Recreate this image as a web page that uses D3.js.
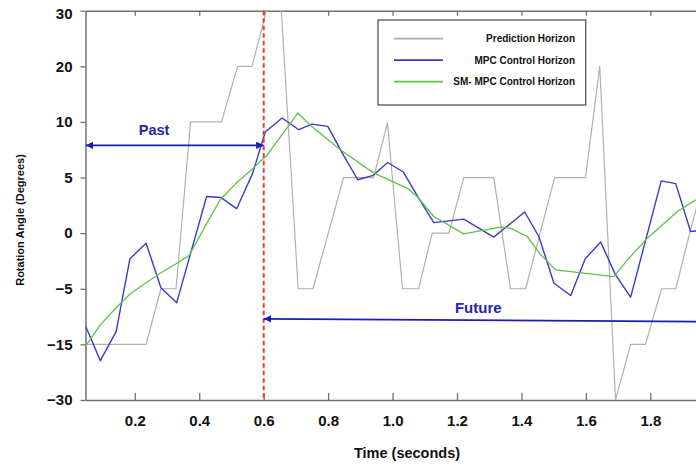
<!DOCTYPE html>
<html>
<head>
<meta charset="utf-8">
<script src="https://cdn.jsdelivr.net/npm/d3@7"></script>
<style>
  html, body { margin: 0; padding: 0; background: #fff; }
  svg { display: block; font-family: "Liberation Sans", Arial, sans-serif; }
</style>
</head>
<body>
<svg id="chart" width="696" height="466"></svg>
<script>
// ---------------- data ----------------
const seriesNames = ["Prediction Horizon", "MPC Control Horizon", "SM- MPC Control Horizon"];

const xTicks = [0.2, 0.4, 0.6, 0.8, 1.0, 1.2, 1.4, 1.6, 1.8];
const yTicks = [-30, -15, -5, 0, 5, 10, 20, 30];

const predTime = [0.048, 0.235, 0.281, 0.328, 0.373, 0.469, 0.519, 0.564, 0.646, 0.707, 0.753, 0.848, 0.941, 0.984, 1.031, 1.081, 1.123, 1.175, 1.221, 1.314, 1.366, 1.413, 1.503, 1.599, 1.643, 1.692, 1.739, 1.785, 1.835, 1.879, 1.922, 1.969];
const predValue = [-15, -15, -5, -5, 10, 10, 20, 20, 38.5, -5, -5, 5, 5, 9.9, -5, -5, 0, 0, 5, 5, -5, -5, 5, 5, 20, -30, -15, -15, -5, -5, 0, 5];

const mpcTime = [0.048, 0.093, 0.142, 0.185, 0.235, 0.281, 0.330, 0.423, 0.468, 0.516, 0.566, 0.605, 0.657, 0.709, 0.750, 0.799, 0.848, 0.892, 0.940, 0.985, 1.033, 1.081, 1.128, 1.174, 1.221, 1.314, 1.410, 1.454, 1.501, 1.553, 1.598, 1.646, 1.692, 1.739, 1.834, 1.879, 1.925, 1.944];
const mpcValue = [-11.8, -19.4, -12.7, -2.3, -0.9, -4.9, -7.5, 3.3, 3.2, 2.2, 5.4, 9.1, 10.7, 9.3, 9.8, 9.6, 7.0, 4.8, 5.2, 6.35, 5.5, 3.15, 0.95, 1.1, 1.26, -0.36, 1.9, -0.3, -4.5, -6.2, -2.3, -0.8, -3.75, -6.5, 4.7, 4.45, 0.15, 0.2];

const smTime = [0.048, 0.093, 0.139, 0.186, 0.233, 0.279, 0.326, 0.369, 0.419, 0.465, 0.515, 0.562, 0.610, 0.706, 0.745, 0.838, 0.942, 1.045, 1.076, 1.128, 1.221, 1.335, 1.366, 1.418, 1.459, 1.506, 1.687, 1.729, 1.791, 1.884, 1.944];
const smValue = [-15.4, -11.5, -8.6, -5.9, -4.5, -3.6, -2.8, -2.0, 0.65, 3.0, 4.5, 5.7, 7.0, 11.6, 9.7, 7.5, 5.4, 4.05, 3.3, 1.5, -0.06, 0.54, 0.45, -0.3, -1.9, -3.3, -3.9, -2.4, -0.45, 1.95, 3.05];

// annotations
const splitTime = 0.6;
const pastArrow = { t0: 0.048, t1: 0.6, v: 7.9, label: "Past", labelT: 0.26, labelV: 8.8 };
const futureArrow = { t0: 0.6, t1: 1.95, v0: -10.4, v1: -10.9, label: "Future", labelT: 1.266, labelV: -9.4 };

// ---------------- layout ----------------
const svg = d3.select("#chart");
const plotLeft = 85.5, plotTop = 10.7, plotBottom = 400, plotRight = 698;

const x = d3.scaleLinear().domain([0.047, 1.95]).range([plotLeft, plotLeft + 1.903 * 322.2]);
const yStep = (plotBottom - plotTop) / (yTicks.length - 1);
const y = d3.scaleLinear().domain(yTicks).range(yTicks.map((d, i) => plotBottom - i * yStep));

const axisColor = "#707070";

svg.append("defs").append("clipPath").attr("id", "plotClip")
  .append("rect").attr("x", plotLeft).attr("y", plotTop)
  .attr("width", plotRight - plotLeft + 10).attr("height", plotBottom - plotTop);

// axes
function styleAxis(g) {
  g.selectAll("path.domain").attr("stroke", axisColor).attr("stroke-width", 1.5);
  g.selectAll(".tick line").attr("stroke", axisColor).attr("stroke-width", 1.3);
  g.selectAll(".tick text").attr("fill", "#111").attr("font-weight", "bold")
    .attr("font-size", "15px").attr("font-family", "'Liberation Sans', Arial, sans-serif");
}

const gx = svg.append("g").attr("transform", `translate(0,${plotBottom})`)
  .call(d3.axisBottom(x).tickValues(xTicks).tickSizeInner(-7).tickSizeOuter(0)
    .tickPadding(15).tickFormat(d3.format(".1f")));
styleAxis(gx);

const gxt = svg.append("g").attr("transform", `translate(0,${plotTop})`)
  .call(d3.axisTop(x).tickValues(xTicks).tickSizeInner(-5).tickSizeOuter(0).tickFormat(""));
styleAxis(gxt);

const gy = svg.append("g").attr("transform", `translate(${plotLeft},0)`)
  .call(d3.axisLeft(y).tickValues(yTicks).tickSizeInner(5).tickSizeOuter(0)
    .tickPadding(8).tickFormat(d3.format("d")));
styleAxis(gy);
// top label sits slightly lower in the reference
gy.selectAll(".tick text").filter(d => d === 30).attr("dy", "0.5em");

// axis titles
svg.append("text").attr("x", 407).attr("y", 458).attr("text-anchor", "middle")
  .attr("font-size", "14.5px").attr("font-weight", "bold").attr("fill", "#111")
  .text("Time (seconds)");
svg.append("text").attr("transform", "translate(20,220) rotate(-90)")
  .attr("text-anchor", "middle").attr("dominant-baseline", "central")
  .attr("font-size", "11px").attr("font-weight", "bold").attr("fill", "#111")
  .text("Rotation Angle (Degrees)");

// series
const colors = ["#b0b0b0", "#3a3ad0", "#5cc24a"];
const widths = [1.2, 1.4, 1.3];
const series = [
  d3.zip(predTime, predValue),
  d3.zip(mpcTime, mpcValue),
  d3.zip(smTime, smValue)
];
const line = d3.line().x(d => x(d[0])).y(d => y(d[1]));
const gLines = svg.append("g").attr("clip-path", "url(#plotClip)");
series.forEach((s, i) => {
  gLines.append("path").datum(s).attr("d", line)
    .attr("fill", "none").attr("stroke", colors[i]).attr("stroke-width", widths[i])
    .attr("stroke-linejoin", "round");
});

// red dashed split line
svg.append("line").attr("x1", x(splitTime)).attr("x2", x(splitTime))
  .attr("y1", plotTop).attr("y2", plotBottom)
  .attr("stroke", "#ee3a28").attr("stroke-width", 2).attr("stroke-dasharray", "4.5,3");

// arrows
const arrowColor = "#1c1cbc";
const defs = svg.select("defs");
defs.append("marker").attr("id", "ahEnd").attr("viewBox", "0 0 10 10")
  .attr("refX", 10).attr("refY", 5).attr("markerWidth", 4.2).attr("markerHeight", 4.2)
  .attr("orient", "auto").attr("markerUnits", "strokeWidth")
  .append("path").attr("d", "M0,0 L10,5 L0,10 z").attr("fill", arrowColor);
defs.append("marker").attr("id", "ahStart").attr("viewBox", "0 0 10 10")
  .attr("refX", 10).attr("refY", 5).attr("markerWidth", 4.2).attr("markerHeight", 4.2)
  .attr("orient", "auto-start-reverse").attr("markerUnits", "strokeWidth")
  .append("path").attr("d", "M0,0 L10,5 L0,10 z").attr("fill", arrowColor);

svg.append("line")
  .attr("x1", x(pastArrow.t0)).attr("x2", x(pastArrow.t1))
  .attr("y1", y(pastArrow.v)).attr("y2", y(pastArrow.v))
  .attr("stroke", arrowColor).attr("stroke-width", 1.8)
  .attr("marker-start", "url(#ahStart)").attr("marker-end", "url(#ahEnd)");
svg.append("text").attr("x", x(pastArrow.labelT)).attr("y", y(pastArrow.labelV))
  .attr("text-anchor", "middle").attr("font-size", "14.5px").attr("font-weight", "bold")
  .attr("fill", "#2323b4").text(pastArrow.label);

svg.append("line")
  .attr("x1", x(futureArrow.t0)).attr("x2", x(futureArrow.t1))
  .attr("y1", y(futureArrow.v0)).attr("y2", y(futureArrow.v1))
  .attr("stroke", arrowColor).attr("stroke-width", 1.8)
  .attr("marker-start", "url(#ahStart)");
svg.append("text").attr("x", x(futureArrow.labelT)).attr("y", y(futureArrow.labelV))
  .attr("text-anchor", "middle").attr("font-size", "15px").attr("font-weight", "bold")
  .attr("fill", "#2323b4").text(futureArrow.label);

// legend
const lg = svg.append("g");
lg.append("rect").attr("x", 378).attr("y", 20).attr("width", 207.7).attr("height", 85)
  .attr("fill", "#fff").attr("stroke", "#555").attr("stroke-width", 1.3);
const legendColors = ["#aaaaaa", "#3a3ad0", "#5cc24a"];
seriesNames.forEach((name, i) => {
  const cy = 38.7 + i * 21.5;
  lg.append("line").attr("x1", 394).attr("x2", 443).attr("y1", cy).attr("y2", cy)
    .attr("stroke", legendColors[i]).attr("stroke-width", 1.8);
  lg.append("text").attr("x", 575).attr("y", cy + 3.5).attr("text-anchor", "end")
    .attr("font-size", "10px").attr("font-weight", "bold").attr("fill", "#111").text(name);
});
</script>
</body>
</html>
